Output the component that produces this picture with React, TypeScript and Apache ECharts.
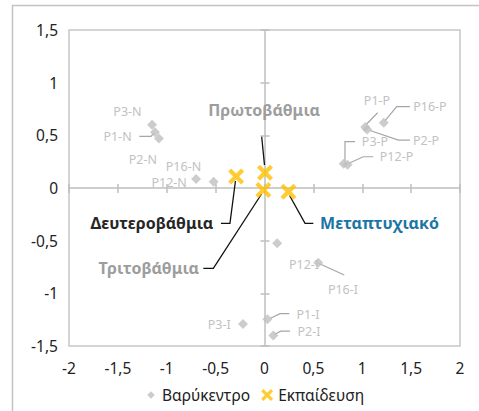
import React, { useEffect, useRef } from "react";
import * as echarts from "echarts";

// ---- data ----
const centroidNames = [
  "P1-N", "P2-N", "P3-N", "P12-N", "P16-N",
  "P1-P", "P2-P", "P3-P", "P12-P", "P16-P",
  "P1-I", "P2-I", "P3-I", "P12-I", "P16-I",
];
const centroidX = [-1.12, -1.08, -1.15, -0.52, -0.7, 1.03, 1.05, 0.81, 0.85, 1.22, 0.03, 0.09, -0.22, 0.13, 0.55];
const centroidY = [0.53, 0.47, 0.6, 0.06, 0.085, 0.58, 0.555, 0.23, 0.22, 0.62, -1.245, -1.4, -1.29, -0.525, -0.71];

const educationNames = ["Πρωτοβάθμια", "Δευτεροβάθμια", "Τριτοβάθμια", "Μεταπτυχιακό"];
const educationX = [0.005, -0.29, -0.012, 0.245];
const educationY = [0.145, 0.11, -0.02, -0.035];

const axisTicks = [-2, -1.5, -1, -0.5, 0, 0.5, 1, 1.5, 2];
const seriesNames = ["Βαρύκεντρο", "Εκπαίδευση"];

// ---- label layout (pixel offsets from the point, styles) ----
type LabelSpec = { dx: number; dy: number; align?: string; line?: number[][] };
const centroidLabelLayout: Record<string, LabelSpec> = {
  "P1-N": { dx: -37.5, dy: 4.5, line: [[-15.7, 4.3], [-4, 4.3], [-1, 0.8]] },
  "P2-N": { dx: -16, dy: 21.5 },
  "P3-N": { dx: -24.6, dy: -13.8 },
  "P12-N": { dx: -44.5, dy: 0.5 },
  "P16-N": { dx: -12.6, dy: -13 },
  "P1-P": { dx: 11.8, dy: -26.9, line: [[12.5, -14.2], [1.5, -2.9]] },
  "P2-P": { dx: 58.9, dy: 10.5, line: [[42.9, 10.5], [31.2, 10.5], [2.9, 1]] },
  "P3-P": { dx: 31.3, dy: -22.1, line: [[11.3, -22.1], [1.3, -22.1], [1.3, -2.8]] },
  "P12-P": { dx: 48.9, dy: -8.1, line: [[25.7, -8.1], [15.7, -8.1], [0.9, -1.3]] },
  "P16-P": { dx: 46.2, dy: -15.7, line: [[26.2, -16], [12.9, -16], [1.2, -1.7]] },
  "P1-I": { dx: 40.6, dy: -5, line: [[21.9, -5.5], [12.6, -5.5], [2.6, -0.6]] },
  "P2-I": { dx: 35.7, dy: -4, line: [[16.7, -4.3], [7.4, -4.3], [1.2, -1]] },
  "P3-I": { dx: -23.7, dy: 1.1 },
  "P12-I": { dx: 26.8, dy: 20.7 },
  "P16-I": { dx: 24.7, dy: 26.5, line: [[26, 12.2], [0.7, 0.7]] },
};
const educationLabelLayout: Record<string, LabelSpec & { color: string }> = {
  "Πρωτοβάθμια": { dx: -56.7, dy: -62.7, align: "left", color: "#9d9d9d", line: [[-3.3, -36], [-0.5, -7.7]] },
  "Δευτεροβάθμια": { dx: -22.9, dy: 46.9, align: "right", color: "#262626", line: [[-15.2, 46.9], [-6.2, 46.9], [-0.7, 4.6]] },
  "Τριτοβάθμια": { dx: -64.3, dy: 78.2, align: "right", color: "#9d9d9d", line: [[-60, 78.2], [-50, 78.2], [-1.8, 3.9]] },
  "Μεταπτυχιακό": { dx: 31.6, dy: 31.6, align: "left", color: "#1b76a4", line: [[24.9, 31.6], [16.6, 31.6], [1.1, 3.8]] },
};

const FONT = '"Noto Sans", "DejaVu Sans", sans-serif';
const XPATH = "path://M3,0 L8,5 L13,0 L16,3 L11,8 L16,13 L13,16 L8,11 L3,16 L0,13 L5,8 L0,3 Z";
const DIAMOND_ICON = "path://M0,0 M12,12 M6,2.2 L9.8,6 L6,9.8 L2.2,6 Z";
const fmt = (v: number) => String(v).replace(".", ",");

export default function App() {
  const ref = useRef<HTMLDivElement>(null);
  useEffect(() => {
    if (!ref.current) return;
    const chart = echarts.init(ref.current, undefined, { renderer: "svg" });
    const centroidData = centroidNames.map((n, i) => ({ name: n, value: [centroidX[i], centroidY[i]] }));
    const educationData = educationNames.map((n, i) => ({ name: n, value: [educationX[i], educationY[i]] }));

    const axisBase = { type: "value", min: axisTicks[0], max: axisTicks[axisTicks.length - 1], interval: 0.5, splitLine: { show: false } };

    const option: any = {
      animation: false,
      textStyle: { fontFamily: FONT },
      grid: { left: 69, right: 19, top: 30, bottom: 65, show: true, borderColor: "#c6c6c6", borderWidth: 1.5, backgroundColor: "transparent" },
      graphic: [
        { type: "rect", shape: { x: 12.5, y: 5.5, width: 520, height: 460 }, style: { fill: "none", stroke: "#c3c3c3", lineWidth: 1.5 }, silent: true },
      ],
      xAxis: [
        { ...axisBase, position: "bottom", axisLine: { show: false, onZero: false }, axisTick: { show: false },
          axisLabel: { margin: 14, fontSize: 15.5, color: "#222", fontFamily: FONT, formatter: fmt } },
        { ...axisBase, position: "top", axisLine: { show: true, onZero: true, lineStyle: { color: "#bfbfbf", width: 1.5 } },
          axisTick: { show: true, length: 4, lineStyle: { color: "#bfbfbf", width: 1.5 } }, axisLabel: { show: false } },
        { ...axisBase, position: "bottom", axisLine: { show: false, onZero: true },
          axisTick: { show: true, length: 5, lineStyle: { color: "#bfbfbf", width: 1.5 } }, axisLabel: { show: false } },
      ],
      yAxis: [
        { ...axisBase, min: -1.5, max: 1.5, position: "left", axisLine: { show: false, onZero: false }, axisTick: { show: false },
          axisLabel: { margin: 11, fontSize: 15.5, color: "#222", fontFamily: FONT, formatter: fmt } },
        { ...axisBase, min: -1.5, max: 1.5, position: "right", axisLine: { show: true, onZero: true, lineStyle: { color: "#bfbfbf", width: 1.5 } },
          axisTick: { show: true, length: 5, lineStyle: { color: "#bfbfbf", width: 1.5 } }, axisLabel: { show: false } },
        { ...axisBase, min: -1.5, max: 1.5, position: "left", axisLine: { show: false, onZero: true },
          axisTick: { show: true, length: 4, lineStyle: { color: "#bfbfbf", width: 1.5 } }, axisLabel: { show: false } },
      ],
      legend: {
        data: [
          { name: seriesNames[0], icon: DIAMOND_ICON },
          { name: seriesNames[1], icon: XPATH },
        ],
        left: 140, top: 382, itemWidth: 12, itemHeight: 12, itemGap: 11,
        textStyle: { fontSize: 15.5, color: "#222", fontFamily: FONT },
      },
      series: [
        {
          name: "centroid-labels", type: "custom", coordinateSystem: "cartesian2d", silent: true, z: 1,
          data: centroidData,
          renderItem: (params: any, api: any) => {
            const name = centroidNames[params.dataIndex];
            const p = api.coord([api.value(0), api.value(1)]);
            const L = centroidLabelLayout[name];
            const children: any[] = [];
            if (L.line) children.push({ type: "polyline", shape: { points: L.line.map(([dx, dy]) => [p[0] + dx, p[1] + dy]) }, style: { stroke: "#a6a6a6", lineWidth: 1.2, fill: "none" } });
            children.push({ type: "text", x: p[0] + L.dx, y: p[1] + L.dy, style: { text: name, fill: "#c2c2c2", fontSize: 12.5, fontFamily: FONT, align: L.align || "center", verticalAlign: "middle" } });
            return { type: "group", children };
          },
        },
        {
          name: "education-labels", type: "custom", coordinateSystem: "cartesian2d", silent: true, z: 1,
          data: educationData,
          renderItem: (params: any, api: any) => {
            const name = educationNames[params.dataIndex];
            const p = api.coord([api.value(0), api.value(1)]);
            const L = educationLabelLayout[name];
            const children: any[] = [];
            if (L.line) children.push({ type: "polyline", shape: { points: L.line.map(([dx, dy]) => [p[0] + dx, p[1] + dy]) }, style: { stroke: "#111", lineWidth: 1.3, fill: "none" } });
            children.push({ type: "text", x: p[0] + L.dx, y: p[1] + L.dy, style: { text: name, fill: L.color, fontSize: 16, fontWeight: "bold", fontFamily: FONT, align: L.align || "center", verticalAlign: "middle" } });
            return { type: "group", children };
          },
        },
        {
          name: seriesNames[0], type: "scatter", symbol: "diamond", symbolSize: 10, z: 3,
          itemStyle: { color: "#bfbfbf" }, data: centroidData,
        },
        {
          name: seriesNames[1], type: "scatter", symbol: XPATH, symbolSize: 16, z: 4,
          itemStyle: { color: "#ffc000" }, data: educationData,
        },
      ],
    };
    chart.setOption(option);
    return () => chart.dispose();
  }, []);
  return <div ref={ref} style={{ position: "fixed", left: 0, top: 0, width: 479, height: 411, background: "#fff" }} />;
}
